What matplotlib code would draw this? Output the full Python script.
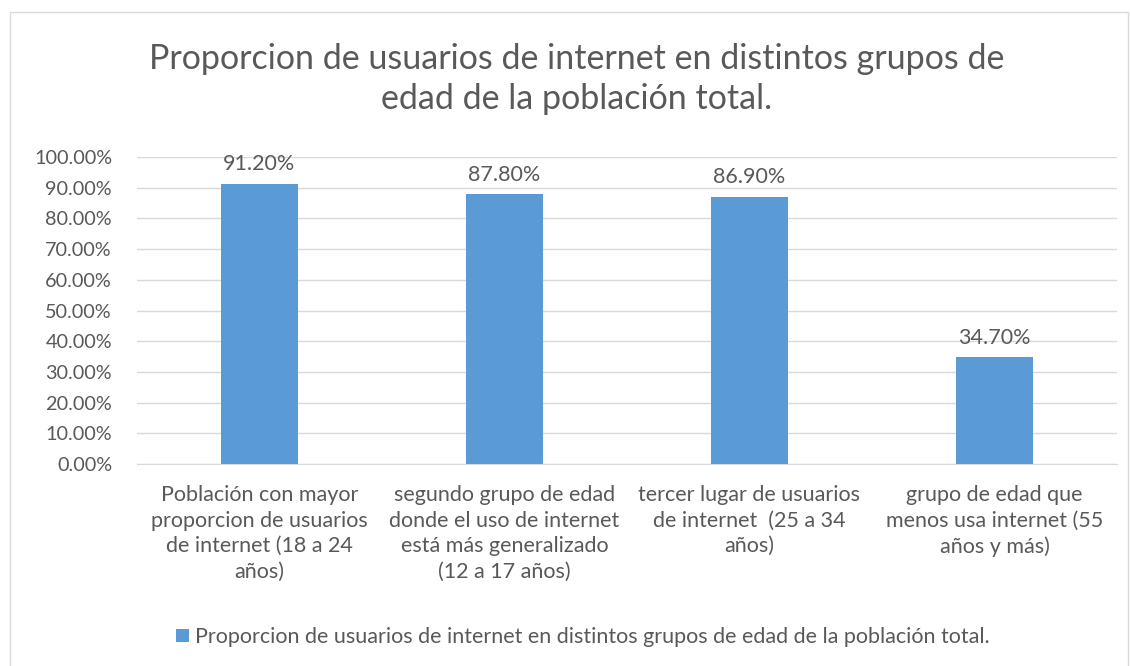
import matplotlib.pyplot as plt
from matplotlib.patches import Rectangle
from matplotlib.ticker import FuncFormatter

plt.rcParams['font.family'] = ['Lato', 'DejaVu Sans']

# data
categorias = [
    'Población con mayor\nproporcion de usuarios\nde internet (18 a 24\naños)',
    'segundo grupo de edad\ndonde el uso de internet\nestá más generalizado\n(12 a 17 años)',
    'tercer lugar de usuarios\nde internet  (25 a 34\naños)',
    'grupo de edad que\nmenos usa internet (55\naños y más)',
]
valores = [91.2, 87.8, 86.9, 34.7]
titulo = 'Proporcion de usuarios de internet en distintos grupos de\nedad de la población total.'
serie = 'Proporcion de usuarios de internet en distintos grupos de edad de la población total.'

texto = '#595959'
azul = '#5B9BD5'

fig = plt.figure(figsize=(11.3, 6.66), dpi=100)
ax = fig.add_axes([137 / 1130, 1 - 464 / 666, 980 / 1130, 307 / 666])

x = range(len(valores))
barras = ax.bar(x, valores, width=0.313, color=azul, label=serie, zorder=3)

for xi, v in zip(x, valores):
    ax.annotate('%.2f%%' % v, (xi, v), xytext=(0, 7), textcoords='offset points',
                ha='center', va='bottom', fontsize=15.5, color=texto)

ax.set_xlim(-0.5, len(valores) - 0.5)
ax.set_ylim(0, 100)
ax.set_yticks(range(0, 101, 10))
ax.yaxis.set_major_formatter(FuncFormatter(lambda v, p: '%.2f%%' % v))
ax.set_xticks(list(x))
ax.set_xticklabels(categorias, fontsize=15.5, color=texto, linespacing=1.36)
ax.tick_params(axis='y', labelsize=14.3, labelcolor=texto, length=0, pad=18)
ax.tick_params(axis='x', length=0, pad=15)
ax.grid(axis='y', color='#D9D9D9', linewidth=1, zorder=0)
for s in ['top', 'right', 'left']:
    ax.spines[s].set_visible(False)
ax.spines['bottom'].set_color('#D9D9D9')

fig.text(577 / 1130, 1 - 79 / 666, titulo, ha='center', va='center',
         fontsize=24.5, color=texto, linespacing=1.3)

fig.legend(handles=[barras], loc='center', bbox_to_anchor=(583 / 1130, 1 - 637 / 666),
           frameon=False, fontsize=15.5, labelcolor=texto, handlelength=0.6,
           handleheight=0.6, handletextpad=0.25)

fig.patches.append(Rectangle((10 / 1130, -0.01), 1118 / 1130, 1 - 12 / 666 + 0.01,
                             transform=fig.transFigure, fill=False,
                             edgecolor='#D9D9D9', linewidth=1))

fig.savefig('out.png', dpi=100)
